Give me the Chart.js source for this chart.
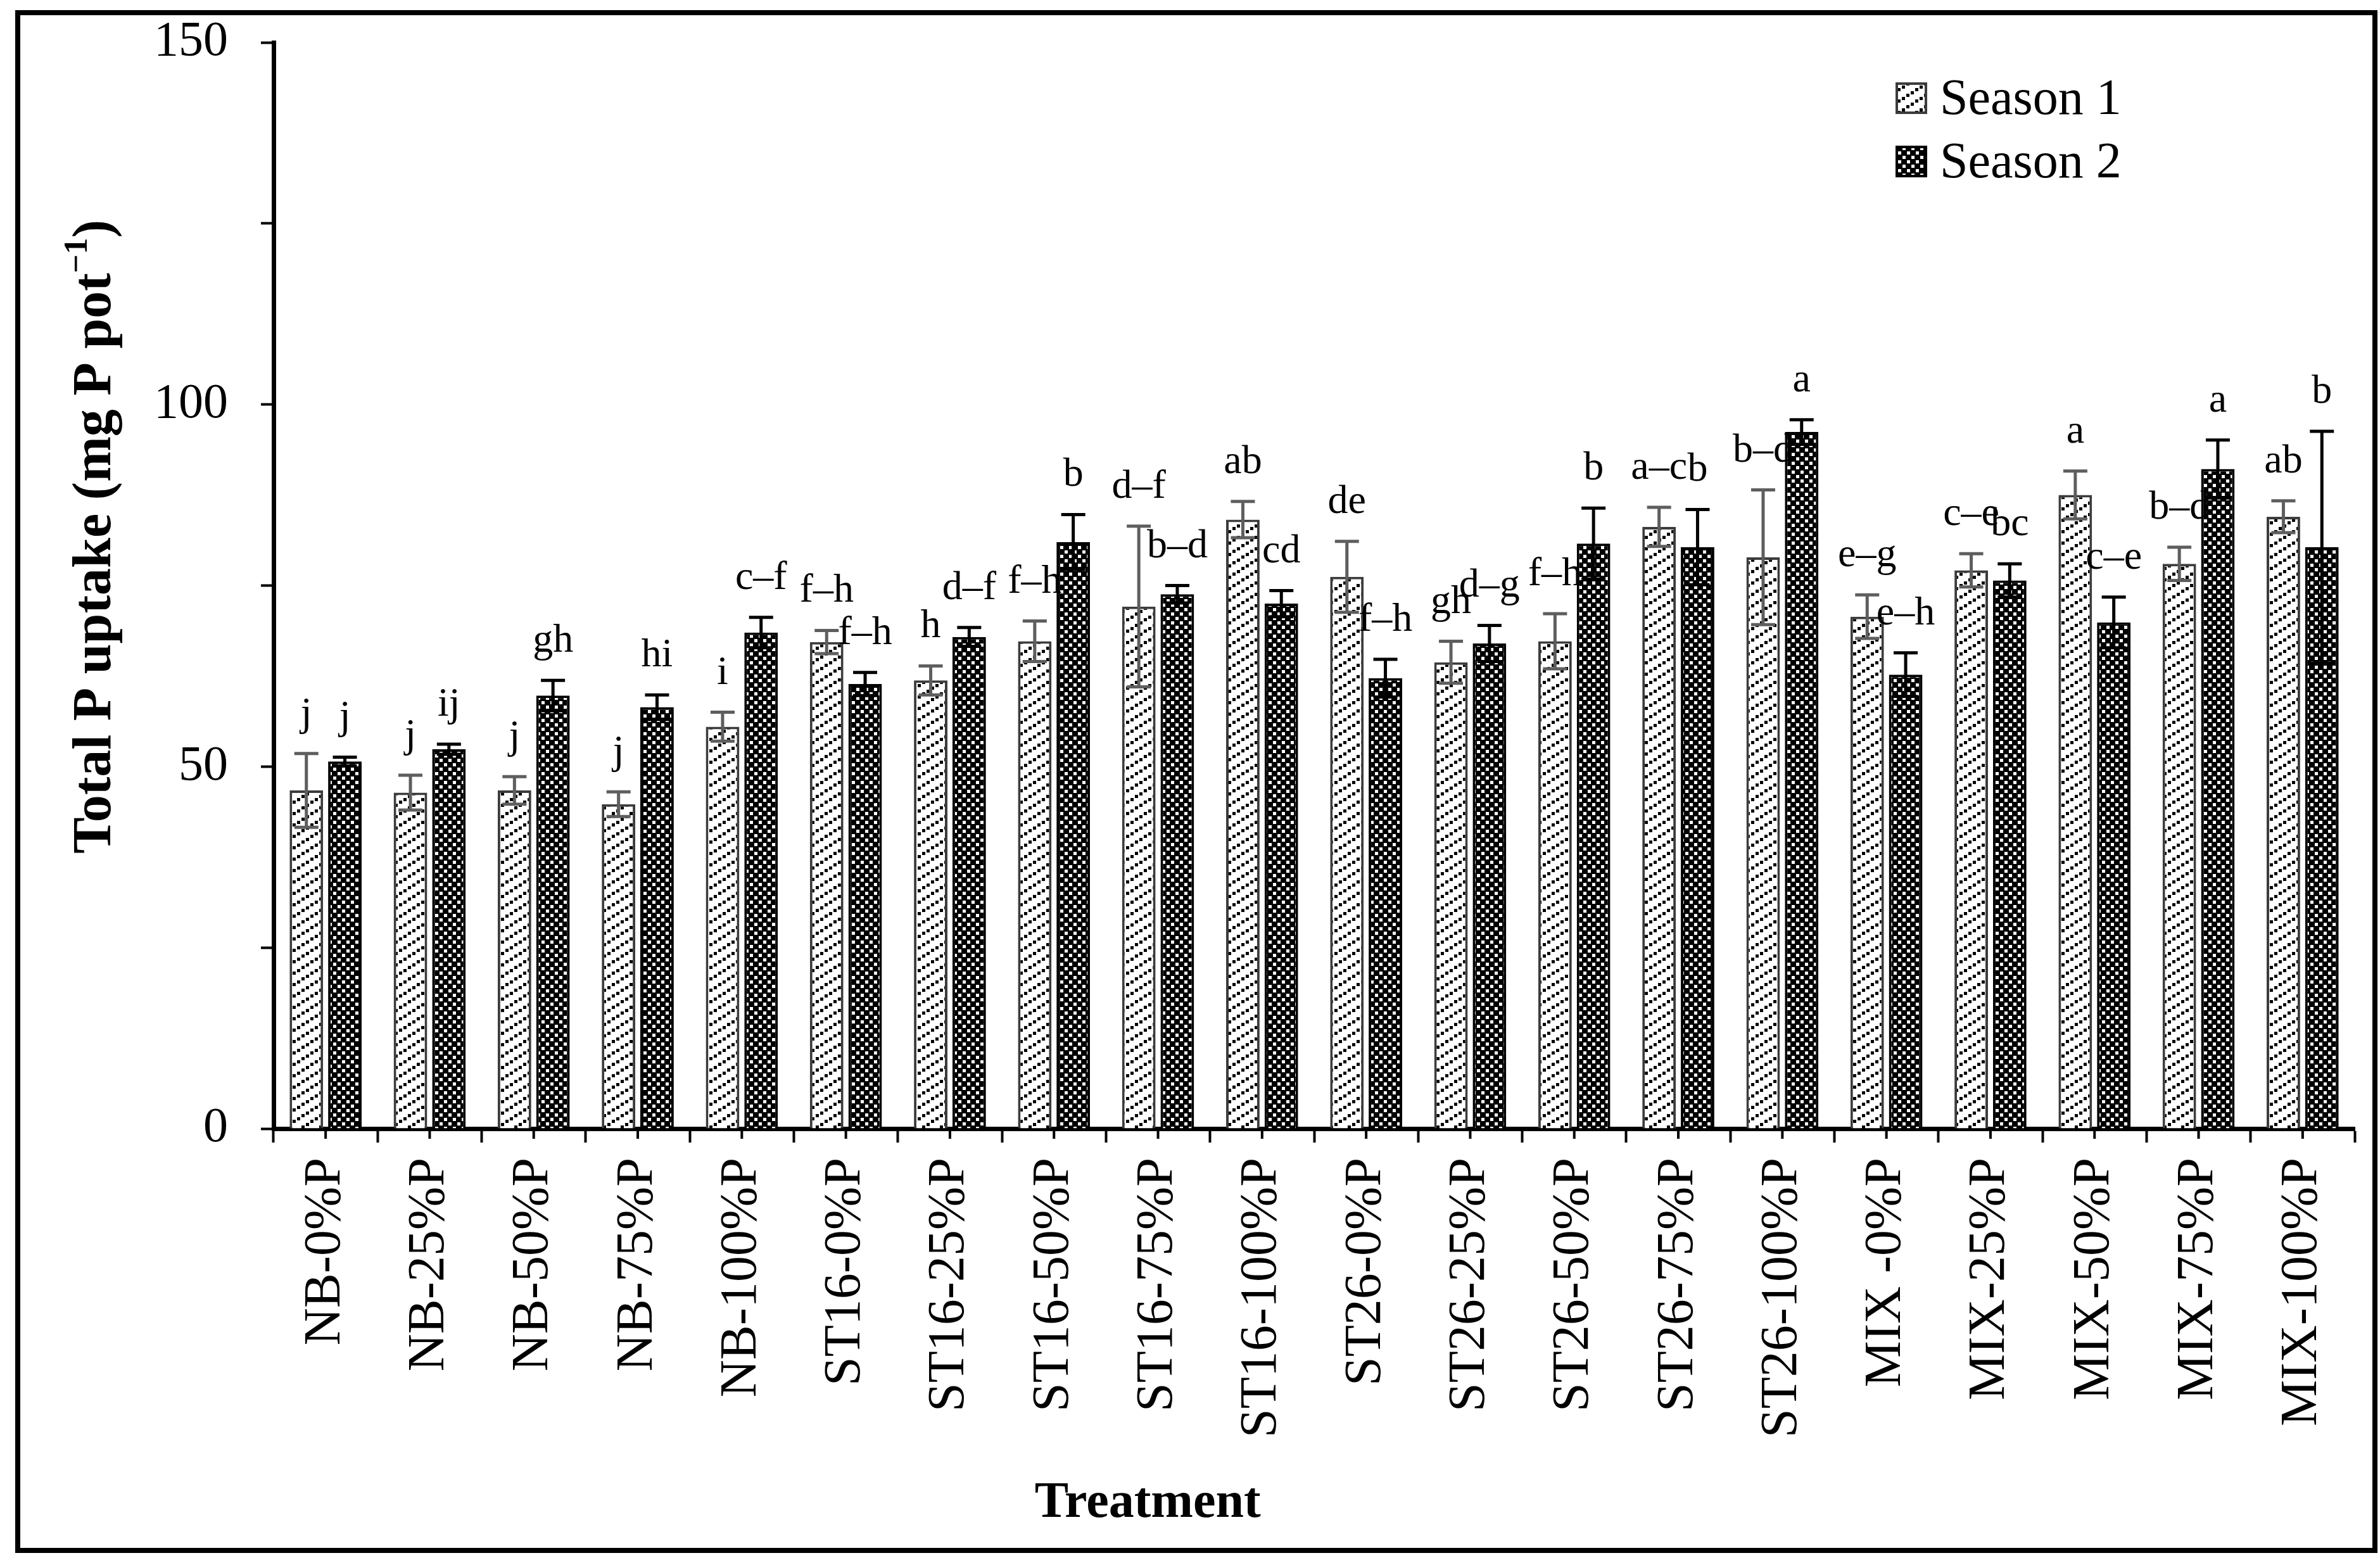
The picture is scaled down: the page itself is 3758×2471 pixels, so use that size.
<!DOCTYPE html>
<html>
<head>
<meta charset="utf-8">
<script src="https://cdn.jsdelivr.net/npm/chart.js@4.4.1/dist/chart.umd.min.js"></script>
<style>
  html, body { margin: 0; padding: 0; background: #fff; }
  #wrap { width: 3758px; height: 2471px; }
</style>
</head>
<body>
<div id="wrap"><canvas id="uptakeChart" width="3758" height="2471"></canvas></div>
<script>
// treatments on the x axis
const categories = ['NB-0%P', 'NB-25%P', 'NB-50%P', 'NB-75%P', 'NB-100%P',
    'ST16-0%P', 'ST16-25%P', 'ST16-50%P', 'ST16-75%P', 'ST16-100%P',
    'ST26-0%P', 'ST26-25%P', 'ST26-50%P', 'ST26-75%P', 'ST26-100%P',
    'MIX -0%P', 'MIX-25%P', 'MIX-50%P', 'MIX-75%P', 'MIX-100%P'];

// total P uptake (mg P pot-1)
const season1 = [46.7, 46.4, 46.7, 44.8, 55.5, 67.2, 61.9, 67.3, 72.1, 84.1,
    76.2, 64.4, 67.3, 83.1, 78.9, 70.7, 77.1, 87.5, 78.0, 84.5];
const season1Err = [5.1, 2.4, 1.9, 1.7, 2.0, 1.6, 2.0, 2.8, 11.1, 2.5,
    4.9, 2.9, 3.8, 2.7, 9.3, 3.0, 2.3, 3.3, 2.3, 2.2];
const season2 = [50.7, 52.4, 59.8, 58.2, 68.5, 61.4, 67.9, 81.0, 73.8, 72.5,
    62.2, 67.0, 80.8, 80.3, 96.2, 62.7, 75.7, 69.9, 91.1, 80.3];
const season2Err = [0.6, 0.7, 2.1, 1.7, 2.1, 1.6, 1.3, 3.8, 1.2, 1.8,
    2.6, 2.5, 4.9, 5.2, 1.7, 3.0, 2.3, 3.5, 4.0, 16.0];

// significance letters above the bars
const letters1 = ['j', 'j', 'j', 'j', 'i', 'f–h', 'h', 'f–h', 'd–f', 'ab',
    'de', 'gh', 'f–h', 'a–c', 'b–d', 'e–g', 'c–e', 'a', 'b–d', 'ab'];
const letters2 = ['j', 'ij', 'gh', 'hi', 'c–f', 'f–h', 'd–f', 'b', 'b–d', 'cd',
    'f–h', 'd–g', 'b', 'b', 'a', 'e–h', 'bc', 'c–e', 'a', 'b'];

const seriesNames = ['Season 1', 'Season 2'];
const yTicks = [0, 50, 100, 150];

const SERIF = '"Liberation Serif", "Times New Roman", serif';
Chart.defaults.font.family = SERIF;
Chart.defaults.color = '#000';

const canvas = document.getElementById('uptakeChart');
const ctx = canvas.getContext('2d');

// dotted upward diagonal hatch (season 1)
function makeHatch() {
    const c = document.createElement('canvas');
    c.width = 28; c.height = 18;
    const g = c.getContext('2d');
    g.fillStyle = '#fff';
    g.fillRect(0, 0, 28, 18);
    g.fillStyle = '#000';
    [[0, 13], [7, 9], [14, 4], [21, 0]].forEach(p => g.fillRect(p[0], p[1], 5, 5));
    return ctx.createPattern(c, 'repeat');
}

// black with white checks (season 2)
function makeCheck() {
    const c = document.createElement('canvas');
    c.width = 14; c.height = 14;
    const g = c.getContext('2d');
    g.fillStyle = '#000';
    g.fillRect(0, 0, 14, 14);
    g.fillStyle = '#fff';
    g.fillRect(1, 1, 5, 5);
    g.fillRect(8, 8, 5, 5);
    return ctx.createPattern(c, 'repeat');
}

const hatch = makeHatch();
const check = makeCheck();

// error bars, letters, centre ticks, axis titles, legend and frame
const decorPlugin = {
    id: 'decor',
    afterDatasetsDraw(chart) {
        const c = chart.ctx;
        const y = chart.scales.y;
        chart.data.datasets.forEach((ds, di) => {
            const meta = chart.getDatasetMeta(di);
            meta.data.forEach((bar, i) => {
                const v = ds.data[i], e = ds.errors[i];
                const top = y.getPixelForValue(v + e);
                const bot = y.getPixelForValue(v - e);
                c.save();
                c.strokeStyle = ds.errColor;
                c.lineWidth = 5;
                c.beginPath();
                c.moveTo(bar.x, top); c.lineTo(bar.x, bot);
                c.moveTo(bar.x - 19, top); c.lineTo(bar.x + 19, top);
                c.moveTo(bar.x - 19, bot); c.lineTo(bar.x + 19, bot);
                c.stroke();
                c.fillStyle = '#000';
                c.font = '64px ' + SERIF;
                c.textAlign = 'center';
                c.textBaseline = 'alphabetic';
                c.fillText(ds.letters[i], bar.x, top - 45);
                c.restore();
            });
        });
    },
    afterDraw(chart) {
        const c = chart.ctx;
        const area = chart.chartArea;
        const x = chart.scales.x;

        c.save();
        // short ticks at category centres
        c.strokeStyle = '#000';
        c.lineWidth = 4;
        c.beginPath();
        categories.forEach((_, i) => {
            const px = x.getPixelForValue(i);
            c.moveTo(px, area.bottom);
            c.lineTo(px, area.bottom + 16);
        });
        c.stroke();

        // x title
        c.fillStyle = '#000';
        c.font = 'bold 80px ' + SERIF;
        c.textAlign = 'center';
        c.textBaseline = 'alphabetic';
        c.fillText('Treatment', area.left + 0.42 * (area.right - area.left), 2395);

        // y title with superscript
        c.save();
        c.translate(152, area.top + 0.455 * (area.bottom - area.top));
        c.rotate(-Math.PI / 2);
        const main = 'Total P uptake (mg P pot';
        const sup = '−1';
        const tail = ')';
        c.font = 'bold 86px ' + SERIF;
        const wMain = c.measureText(main).width;
        const wTail = c.measureText(tail).width;
        c.font = 'bold 52px ' + SERIF;
        const wSup = c.measureText(sup).width;
        const total = wMain + wSup + wTail;
        let cx = -total / 2;
        c.textAlign = 'left';
        c.textBaseline = 'middle';
        c.font = 'bold 86px ' + SERIF;
        c.fillText(main, cx, 0);
        cx += wMain;
        c.font = 'bold 52px ' + SERIF;
        c.fillText(sup, cx, -28);
        cx += wSup;
        c.font = 'bold 86px ' + SERIF;
        c.fillText(tail, cx, 0);
        c.restore();

        // legend
        chart.data.datasets.forEach((ds, di) => {
            const bx = area.right - 723;
            const by = area.top + 65 + di * 100;
            c.fillStyle = ds.backgroundColor;
            c.fillRect(bx, by, 46, 46);
            c.strokeStyle = ds.borderColor;
            c.lineWidth = 4;
            c.strokeRect(bx, by, 46, 46);
            c.fillStyle = '#000';
            c.font = '80px ' + SERIF;
            c.textAlign = 'left';
            c.textBaseline = 'alphabetic';
            c.fillText(ds.label, bx + 68, by + 48);
        });

        // outer frame
        c.strokeStyle = '#000';
        c.lineWidth = 8;
        c.strokeRect(28, 20, 3722, 2428);
        c.restore();
    }
};

new Chart(ctx, {
    type: 'bar',
    data: {
        labels: categories,
        datasets: [{
            label: seriesNames[0],
            data: season1,
            errors: season1Err,
            letters: letters1,
            errColor: '#5e5e5e',
            backgroundColor: hatch,
            borderColor: '#3c3c3c',
            borderWidth: 4,
            categoryPercentage: 0.74,
            barPercentage: 0.87
        }, {
            label: seriesNames[1],
            data: season2,
            errors: season2Err,
            letters: letters2,
            errColor: '#000',
            backgroundColor: check,
            borderColor: '#000',
            borderWidth: 4,
            categoryPercentage: 0.74,
            barPercentage: 0.87
        }]
    },
    options: {
        responsive: false,
        devicePixelRatio: 1,
        animation: false,
        layout: { padding: { top: 67, right: 40, left: 0, bottom: 0 } },
        plugins: {
            legend: { display: false },
            tooltip: { enabled: false }
        },
        scales: {
            x: {
                grid: { drawOnChartArea: false, offset: true, tickLength: 22, tickWidth: 4, tickColor: '#000' },
                border: { color: '#000', width: 7 },
                ticks: {
                    font: { size: 82 }, color: '#000',
                    maxRotation: 90, minRotation: 90, padding: 24, autoSkip: false
                },
                afterFit: s => { s.height = 689; s.paddingLeft = 0; s.paddingRight = 0; }
            },
            y: {
                min: 0, max: 150,
                grid: { drawOnChartArea: false, tickLength: 20, tickWidth: 4, tickColor: '#000' },
                border: { color: '#000', width: 7 },
                ticks: {
                    stepSize: 25, font: { size: 78 }, color: '#000', padding: 52,
                    callback: v => yTicks.includes(v) ? v : ''
                },
                afterFit: s => { s.width = 432; s.paddingTop = 0; s.paddingBottom = 0; }
            }
        }
    },
    plugins: [decorPlugin]
});
</script>
</body>
</html>
